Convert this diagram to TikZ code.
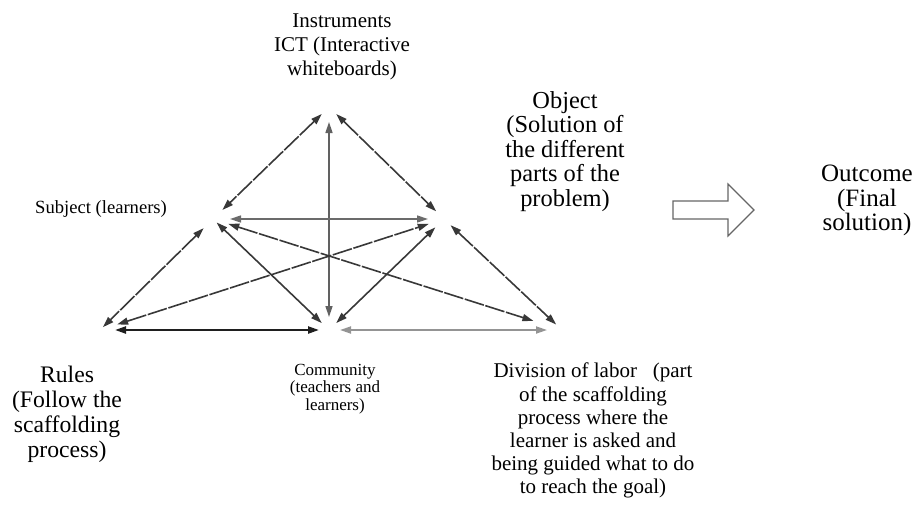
\documentclass[tikz,border=0pt]{standalone}
\usepackage{fontspec}
\setmainfont{Liberation Serif}
\usetikzlibrary{arrows.meta}
\begin{document}
\begin{tikzpicture}[x=1pt,y=-1pt,
  lbl/.style={inner sep=0pt,align=center,anchor=north},
  link/.style={{Triangle[length=11pt,width=7pt]}-{Triangle[length=11pt,width=7pt]},line width=1.6pt,draw=black!78},
  brk/.style={link,dash pattern=on 20pt off 1.6pt}]
\useasboundingbox (0,0) rectangle (917,504);
% vertices
\coordinate (T) at (329,107);
\coordinate (S) at (213,219);
\coordinate (O) at (444,219);
\coordinate (R) at (100,330);
\coordinate (C) at (329,330);
\coordinate (D) at (562,330);
% labels
\node[lbl,font=\fontsize{21}{24}\selectfont] (tI) at (342,14) {Instruments\\ICT (Interactive\\whiteboards)};
\node[lbl,font=\fontsize{24.4}{24.5}\selectfont] (tO) at (565,91) {Object\\(Solution of\\the different\\parts of the\\problem)};
\node[lbl,font=\fontsize{25}{24.5}\selectfont] (tU) at (867,165) {Outcome\\(Final\\solution)};
\node[inner sep=0pt,anchor=base west,font=\fontsize{18.6}{22}\selectfont] (tS) at (35,213) {Subject (learners)};
\node[lbl,font=\fontsize{23.7}{24.8}\selectfont] (tR) at (67,366) {Rules\\(Follow the\\scaffolding\\process)};
\node[lbl,font=\fontsize{17}{17.5}\selectfont] (tC) at (335,364) {Community\\(teachers and\\learners)};
\node[lbl,font=\fontsize{21}{23.2}\selectfont] (tD) at (593,363) {Division of labor \ \ (part\\of the scaffolding\\process where the\\learner is asked and\\being guided what to do\\to reach the goal)};
% connectors
\draw[brk,shorten <=10pt,shorten >=13pt] (T) -- (S);
\draw[brk,shorten <=10pt,shorten >=11pt] (T) -- (O);
\draw[link,draw=black!62,shorten <=15pt,shorten >=13pt] (T) -- (C);
\draw[link,draw=black!58,shorten <=17pt,shorten >=16pt] (S) -- (O);
\draw[brk,shorten <=13pt,shorten >=4pt] (S) -- (R);
\draw[link,shorten <=5pt,shorten >=10pt] (S) -- (C);
\draw[brk,shorten <=16pt,shorten >=30pt] (S) -- (D);
\draw[brk,shorten <=18pt,shorten >=16pt] (R) -- (O);
\draw[link,shorten <=10pt,shorten >=12pt] (C) -- (O);
\draw[brk,shorten <=9pt,shorten >=8pt] (O) -- (D);
\draw[link,draw=black!88,line width=2.2pt,shorten <=15pt,shorten >=10pt] (R) -- (C);
\draw[link,draw=black!42,line width=1.8pt,shorten <=11pt,shorten >=15pt] (C) -- (D);
% hollow arrow
\draw[draw=black!60,line width=1.1pt,fill=white,line join=miter]
  (673,201) -- (728,201) -- (728,184) -- (754,210) -- (728,236) -- (728,219) -- (673,219) -- cycle;
\end{tikzpicture}
\end{document}
